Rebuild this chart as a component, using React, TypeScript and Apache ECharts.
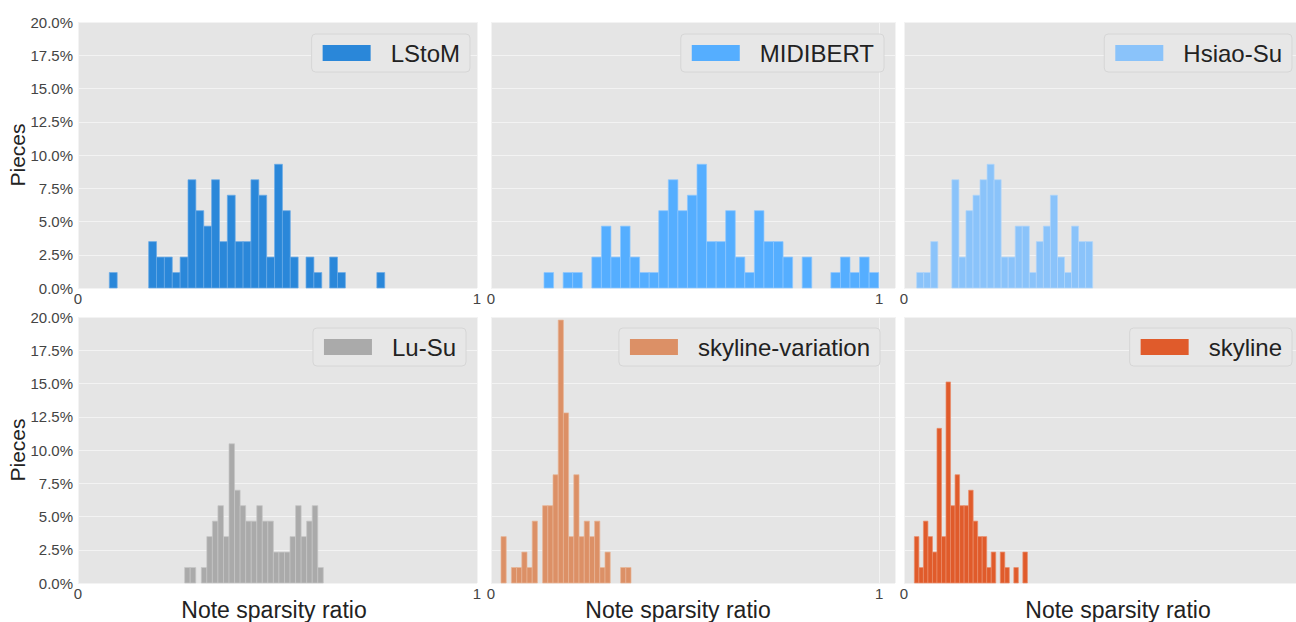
import React, { useEffect, useRef } from "react";
import * as echarts from "echarts";

const TOTAL_PIECES = 86;
const seriesNames = ["LStoM", "MIDIBERT", "Hsiao-Su", "Lu-Su", "skyline-variation", "skyline"];
const binStarts = [0.0785, 0.1366, 0.0318, 0.2673, 0.0258, 0.026];
const binWidths = [0.01972, 0.02464, 0.01764, 0.0139, 0.0134, 0.01133];
const lstomCounts = [1,0,0,0,0,3,2,2,1,2,7,5,4,7,3,6,3,3,7,6,2,8,5,2,0,2,1,0,2,1,0,0,0,0,1];
const midibertCounts = [1,0,1,1,0,2,4,2,4,2,1,1,5,7,5,6,8,3,3,5,2,1,5,3,3,2,0,2,0,0,1,2,1,2,1];
const hsiaoSuCounts = [1,1,3,0,0,7,2,5,6,7,8,7,2,2,4,4,1,3,4,6,2,1,4,3,3];
const luSuCounts = [1,1,0,1,3,4,5,3,9,6,5,4,4,5,4,4,2,2,2,3,5,3,4,5,1];
const skylineVariationCounts = [3,0,1,1,2,1,4,0,5,5,7,17,11,3,7,3,4,3,4,1,2,0,0,1,1];
const skylineCounts = [3,1,4,3,2,10,3,13,5,7,5,5,6,4,3,3,1,2,0,2,1,0,1,0,2];
const allCounts = [lstomCounts, midibertCounts, hsiaoSuCounts, luSuCounts, skylineVariationCounts, skylineCounts];
const xTickLabels = ["0", "1"];
const yMax = 0.2;
const yStep = 0.025;
const xAxisTitle = "Note sparsity ratio";
const yAxisTitle = "Pieces";

const colors = ["#2a87d9", "#55aeff", "#8ac3fa", "#aaaaaa", "#dc9066", "#e05b2b"];
const edgeColors = ["#6aaae6", "#8cc7ff", "#b0d6fb", "#c6c6c6", "#e8b496", "#ea8c6a"];

const colLeft = [78, 491, 904];
const colWidth = [399, 404, 399];
const colXMax = [1, 1.041, 1];
const colShowEndLabel = [true, true, false];
const rowTop = [22, 317];
const rowHeight = 266;
const legendRight = [826, 412, 4, 830, 416, 4];
const legendTop = [34, 328];
const xTitleCenters = [274, 678, 1118];

const FONT = "Liberation Sans, Arial, Helvetica, sans-serif";

export default function App() {
  const ref = useRef<HTMLDivElement>(null);
  useEffect(() => {
    if (!ref.current) return;
    const chart = echarts.init(ref.current, undefined, { renderer: "svg" });
    const grids: any[] = [];
    const xAxes: any[] = [];
    const yAxes: any[] = [];
    const series: any[] = [];
    const legends: any[] = [];
    for (let i = 0; i < 6; i++) {
      const r = Math.floor(i / 3);
      const c = i % 3;
      grids.push({
        left: colLeft[c],
        top: rowTop[r],
        width: colWidth[c],
        height: rowHeight,
        show: true,
        backgroundColor: "#e5e5e5",
        borderWidth: 0,
        containLabel: false,
        outerBoundsMode: "none",
      });
      const showEnd = colShowEndLabel[c];
      xAxes.push({
        type: "value",
        gridIndex: i,
        min: 0,
        max: colXMax[c],
        interval: 1,
        axisLine: { show: false },
        axisTick: { show: false },
        splitLine: { show: true, lineStyle: { color: "#f3f3f3", width: 1 } },
        axisLabel: {
          show: true,
          fontFamily: FONT,
          fontSize: 15,
          color: "#444",
          margin: 3,
          formatter: (v: number) => (v === 0 ? xTickLabels[0] : v === 1 && showEnd ? xTickLabels[1] : ""),
        },
      });
      yAxes.push({
        type: "value",
        gridIndex: i,
        min: 0,
        max: yMax,
        interval: yStep,
        axisLine: { show: false },
        axisTick: { show: false },
        splitLine: { show: true, lineStyle: { color: "#f3f3f3", width: 1 } },
        axisLabel: {
          show: c === 0,
          fontFamily: FONT,
          fontSize: 15,
          color: "#444",
          margin: 5,
          formatter: (v: number) => (v * 100).toFixed(1) + "%",
        },
      });
      const counts = allCounts[i];
      const data: number[][] = [];
      counts.forEach((cnt, k) => {
        if (cnt > 0) {
          const x0 = binStarts[i] + k * binWidths[i];
          data.push([x0, x0 + binWidths[i], cnt / TOTAL_PIECES]);
        }
      });
      const fill = colors[i];
      const edge = edgeColors[i];
      series.push({
        type: "custom",
        name: seriesNames[i],
        xAxisIndex: i,
        yAxisIndex: i,
        itemStyle: { color: fill },
        encode: { x: [0, 1], y: 2 },
        clip: false,
        renderItem: (params: any, api: any) => {
          const p0 = api.coord([api.value(0), api.value(2)]);
          const p1 = api.coord([api.value(1), 0]);
          return {
            type: "rect",
            shape: { x: p0[0], y: p0[1], width: p1[0] - p0[0], height: p1[1] - p0[1] },
            style: { fill, stroke: edge, lineWidth: 0.7 },
          };
        },
        data,
      });
      legends.push({
        data: [{ name: seriesNames[i], icon: "rect" }],
        right: legendRight[i],
        top: legendTop[r],
        itemWidth: 48,
        itemHeight: 16,
        padding: [7, 10, 7, 11],
        backgroundColor: "#e7e7e7",
        borderColor: "#d6d6d6",
        borderWidth: 1,
        borderRadius: 4,
        selectedMode: false,
        textStyle: { fontFamily: FONT, fontSize: 24, lineHeight: 24, color: "#222", padding: [0, 0, 0, 15] },
      });
    }
    const graphics: any[] = xTitleCenters.map((cx) => ({
      type: "text",
      x: cx,
      y: 610,
      style: {
        text: xAxisTitle,
        fontFamily: FONT,
        fontSize: 23,
        fill: "#222",
        textAlign: "center",
        textVerticalAlign: "middle",
      },
    }));
    rowTop.forEach((top) => {
      graphics.push({
        type: "text",
        x: 17,
        y: top + rowHeight / 2,
        rotation: Math.PI / 2,
        style: {
          text: yAxisTitle,
          fontFamily: FONT,
          fontSize: 21,
          fill: "#222",
          textAlign: "center",
          textVerticalAlign: "middle",
        },
      });
    });
    chart.setOption({
      animation: false,
      backgroundColor: "#ffffff",
      grid: grids,
      xAxis: xAxes,
      yAxis: yAxes,
      legend: legends,
      series,
      graphic: graphics,
    });
    return () => chart.dispose();
  }, []);
  return (
    <div
      ref={ref}
      style={{ position: "fixed", left: 0, top: 0, width: 1296, height: 622, overflow: "hidden" }}
    />
  );
}
